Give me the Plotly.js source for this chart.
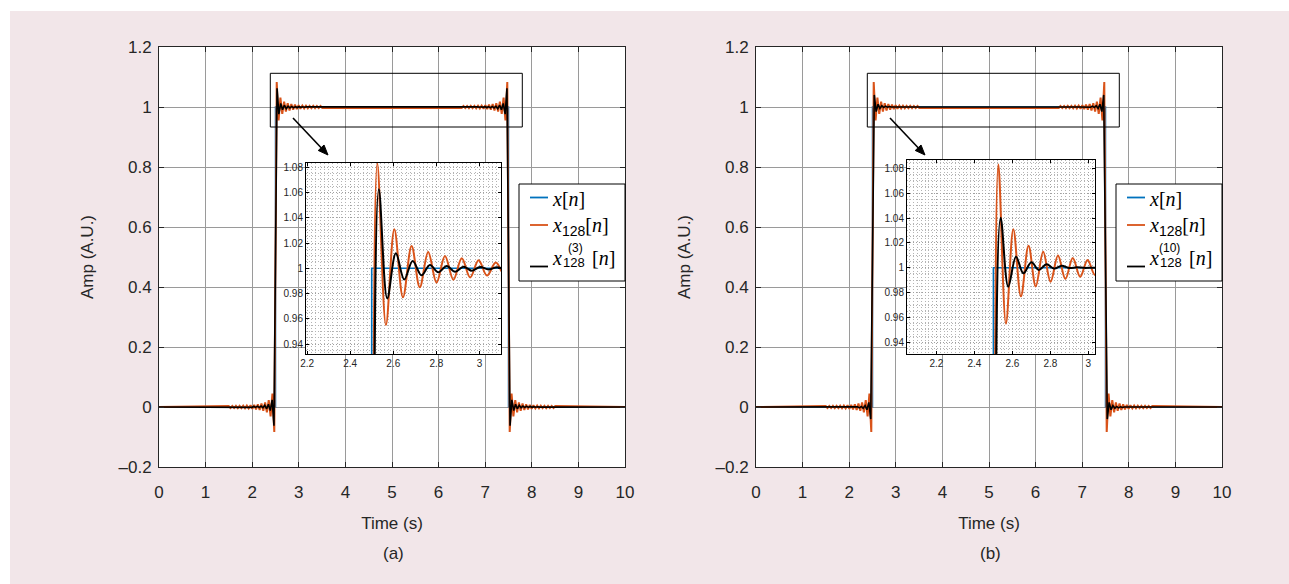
<!DOCTYPE html>
<html><head><meta charset="utf-8">
<script src="https://cdn.plot.ly/plotly-3.0.1.min.js"></script>
<style>
body{margin:0;background:#fff;width:1289px;height:584px;overflow:hidden;position:relative}
#main{position:absolute;left:10px;top:11px;width:1279px;height:573px}
#insetA{position:absolute;left:256px;top:148px;width:265px;height:240px}
#insetB{position:absolute;left:857px;top:145px;width:258px;height:243px}
</style></head><body>
<div id="main"></div><div id="insetA"></div><div id="insetB"></div>
<script>
// ---------------- data ----------------
const stepT = [0, 2.5, 2.5, 7.5, 7.5, 10];
const stepV = [0, 0, 1, 1, 0, 0];

// x128[n] around the rising edge (extrema)
const x128RiseT = [1.495,1.534,1.573,1.612,1.651,1.690,1.729,1.768,1.807,1.846,1.885,1.924,1.965,2.004,2.043,2.082,2.121,2.160,2.199,2.238,2.277,2.315,2.355,2.395,2.434,2.474,2.500,2.526,2.566,2.605,2.645,2.685,2.723,2.762,2.801,2.840,2.879,2.918,2.957,2.996,3.035,3.076,3.115,3.154,3.193,3.232,3.271,3.310,3.349,3.388,3.427,3.466,3.505];
const x128RiseV = [0.0034,-0.0032,0.0036,-0.0034,0.0038,-0.0036,0.0041,-0.0039,0.0044,-0.0042,0.0047,-0.0045,0.0058,-0.0063,0.0073,-0.0079,0.0090,-0.0098,0.0113,-0.0128,0.0150,-0.0177,0.0230,-0.0310,0.0450,-0.0830,0.5000,1.0830,0.9550,1.0310,0.9770,1.0177,0.9850,1.0128,0.9887,1.0098,0.9910,1.0079,0.9927,1.0063,0.9942,1.0045,0.9953,1.0042,0.9956,1.0039,0.9959,1.0036,0.9962,1.0034,0.9964,1.0032,0.9966];

// x128^(3)[n] around the rising edge
const x3RiseT = [1.840,1.880,1.919,1.958,1.997,2.036,2.074,2.113,2.152,2.191,2.230,2.269,2.310,2.349,2.388,2.428,2.467,2.500,2.533,2.572,2.612,2.651,2.690,2.731,2.770,2.809,2.848,2.887,2.926,2.964,3.003,3.042,3.081,3.120,3.160];
const x3RiseV = [-0.0005,0.0007,-0.0008,0.0010,-0.0011,0.0019,-0.0013,0.0028,-0.0018,0.0032,-0.0026,0.0056,-0.0058,0.0089,-0.0119,0.0238,-0.0626,0.5000,1.0626,0.9762,1.0119,0.9911,1.0058,0.9944,1.0026,0.9968,1.0018,0.9972,1.0013,0.9981,1.0011,0.9990,1.0008,0.9993,1.0005];

// x128^(10)[n] around the rising edge
const x10RiseT = [1.940,1.980,2.020,2.060,2.100,2.140,2.180,2.220,2.261,2.300,2.342,2.381,2.422,2.462,2.500,2.538,2.578,2.619,2.658,2.700,2.739,2.780,2.820,2.860,2.900,2.940,2.980,3.020,3.060];
const x10RiseV = [0.0000,0.0002,-0.0001,-0.0004,0.0002,-0.0017,0.0007,-0.0028,0.0018,-0.0044,0.0045,-0.0089,0.0152,-0.0403,0.5000,1.0403,0.9848,1.0089,0.9955,1.0044,0.9982,1.0028,0.9993,1.0017,0.9998,1.0004,0.9999,1.0001,1.0000];

const mainXTicks = [0,1,2,3,4,5,6,7,8,9,10];
const mainYTicks = [-0.2,0,0.2,0.4,0.6,0.8,1,1.2];
const mainYText = ['\u20130.2','0','0.2','0.4','0.6','0.8','1','1.2'];
const insetXTicks = [2.2,2.4,2.6,2.8,3.0];
const insetXText = ['2.2','2.4','2.6','2.8','3'];
const insetYTicks = [0.94,0.96,0.98,1.00,1.02,1.04,1.06,1.08];
const insetYText = ['0.94','0.96','0.98','1','1.02','1.04','1.06','1.08'];

// pulse is symmetric about t = 5: the falling edge is the mirror of the rising edge
function pulse(rt, rv) {
  const ft = rt.slice().reverse().map(t => 10 - t);
  const fv = rv.slice().reverse();
  return {t: [0, ...rt, ...ft, 10], v: [0, ...rv, ...fv, 0]};
}
const x128 = pulse(x128RiseT, x128RiseV);
const x3 = pulse(x3RiseT, x3RiseV);
const x10 = pulse(x10RiseT, x10RiseV);

// ---------------- styles ----------------
const BLUE = '#0072BD', ORANGE = '#D95319', BLACK = '#000000';
const SANS = 'Liberation Sans, Arial, Helvetica, sans-serif';
const SERIF = 'Liberation Serif, Times New Roman, serif';
const TXT = '#262626';

function traces(xa, ya, orange, blk, w, shape) {
  return [
    {x: stepT, y: stepV, xaxis: xa, yaxis: ya, type: 'scatter', mode: 'lines', line: {color: BLUE, width: w[0]}, hoverinfo: 'skip'},
    {x: orange.t, y: orange.v, xaxis: xa, yaxis: ya, type: 'scatter', mode: 'lines', line: {color: ORANGE, width: w[1], shape: shape, smoothing: 1}, hoverinfo: 'skip'},
    {x: blk.t, y: blk.v, xaxis: xa, yaxis: ya, type: 'scatter', mode: 'lines', line: {color: BLACK, width: w[2], shape: shape, smoothing: 1}, hoverinfo: 'skip'}
  ];
}

// main figure geometry (page pixels)
const PL = 159, PR = 1222, PT = 47, PB = 467, OFF = 597;
const px = x => (x - PL) / (PR - PL);
const py = y => (PB - y) / (PB - PT);

const axBase = {
  showline: true, linecolor: TXT, linewidth: 1, mirror: 'ticks',
  ticks: 'inside', ticklen: 5, tickcolor: TXT, tickwidth: 1,
  showgrid: true, gridcolor: '#9a9a9a', gridwidth: 1, zeroline: false,
  tickfont: {family: SANS, size: 17, color: TXT}, fixedrange: true
};
function xAx(dom, anchor) {
  return Object.assign({}, axBase, {domain: dom, anchor: anchor, range: [0, 10], tickmode: 'array', tickvals: mainXTicks,
    ticklabelstandoff: 10, title: {text: 'Time (s)', font: {family: SANS, size: 17, color: TXT}, standoff: 15}});
}
function yAx(anchor) {
  return Object.assign({}, axBase, {domain: [0, 1], anchor: anchor, range: [-0.2, 1.2], tickmode: 'array', tickvals: mainYTicks, ticktext: mainYText,
    ticklabelstandoff: 3, title: {text: 'Amp (A.U.)', font: {family: SANS, size: 17, color: TXT}, standoff: 20}});
}

const shapes = [];
const ann = [];
function arrow(x1, y1, x2, y2) {
  const dx = x2 - x1, dy = y2 - y1, L = Math.hypot(dx, dy);
  const ux = dx / L, uy = dy / L, hl = 10, hw = 4;
  const bx = x2 - hl * ux, by = y2 - hl * uy;
  shapes.push({type: 'line', xref: 'paper', yref: 'paper', x0: px(x1), y0: py(y1), x1: px(bx), y1: py(by), line: {color: '#000', width: 1.6}, layer: 'above'});
  const p = [[x2, y2], [bx - hw * uy, by + hw * ux], [bx + hw * uy, by - hw * ux]];
  shapes.push({type: 'path', xref: 'paper', yref: 'paper', layer: 'above', fillcolor: '#000', line: {color: '#000', width: 1},
    path: 'M ' + p.map(q => px(q[0]) + ' ' + py(q[1])).join(' L ') + ' Z'});
}
function panelDecor(o, sup) {
  // zoom rectangle
  shapes.push({type: 'rect', xref: 'paper', yref: 'paper', x0: px(270.3 + o), x1: px(522.3 + o), y0: py(127), y1: py(73.3), line: {color: '#000', width: 1}, layer: 'above'});
  // legend box
  shapes.push({type: 'rect', xref: 'paper', yref: 'paper', x0: px(519 + o), x1: px(625 + o), y0: py(281), y1: py(184), line: {color: '#000', width: 1}, fillcolor: '#fff', layer: 'above'});
  const ly = [197.5, 225, 266.5], cols = [BLUE, ORANGE, BLACK];
  for (let i = 0; i < 3; i++) {
    shapes.push({type: 'line', xref: 'paper', yref: 'paper', x0: px(530 + o), x1: px(548 + o), y0: py(ly[i]), y1: py(ly[i]), line: {color: cols[i], width: 1.8}, layer: 'above'});
  }
  const sub = '<sub><span style="font-family:Liberation Sans">128</span></sub>';
  const texts = ['<i>x</i>[<i>n</i>]', '<i>x</i>' + sub + '[<i>n</i>]'];
  const ty = [199, 226];
  for (let i = 0; i < 2; i++) {
    ann.push({xref: 'paper', yref: 'paper', x: px(551 + o), y: py(ty[i]), xanchor: 'left', yanchor: 'middle', showarrow: false, borderpad: 0,
      text: texts[i], font: {family: SERIF, size: 20, color: '#000'}});
  }
  // third entry: x with stacked superscript / subscript
  ann.push({xref: 'paper', yref: 'paper', x: px(551 + o), y: py(258), xanchor: 'left', yanchor: 'middle', showarrow: false, borderpad: 0,
    text: '<i>x</i>', font: {family: SERIF, size: 20, color: '#000'}});
  ann.push({xref: 'paper', yref: 'paper', x: px(562 + o), y: py(263), xanchor: 'left', yanchor: 'middle', showarrow: false, borderpad: 0,
    text: '128', font: {family: SANS, size: 13, color: '#000'}});
  ann.push({xref: 'paper', yref: 'paper', x: px((sup.length > 3 ? 561 : 567) + o), y: py(248.5), xanchor: 'left', yanchor: 'middle', showarrow: false, borderpad: 0,
    text: sup, font: {family: SANS, size: 12, color: '#000'}});
  ann.push({xref: 'paper', yref: 'paper', x: px(591 + o), y: py(258), xanchor: 'left', yanchor: 'middle', showarrow: false, borderpad: 0,
    text: '[<i>n</i>]', font: {family: SERIF, size: 20, color: '#000'}});
  // arrow
  arrow(293 + o, 118, 328 + o, 155);
  // panel label
  ann.push({xref: 'paper', yref: 'paper', x: px(393 + o), y: py(553), xanchor: 'center', yanchor: 'middle', showarrow: false,
    text: o ? '(b)' : '(a)', font: {family: SANS, size: 17, color: TXT}});
}
panelDecor(0, '(3)');
panelDecor(OFF, '(10)');

const mainLayout = {
  width: 1279, height: 573, margin: {l: 149, r: 67, t: 36, b: 117},
  paper_bgcolor: '#f2e6e9', plot_bgcolor: '#ffffff', showlegend: false,
  xaxis: xAx([0, px(625)], 'y'), yaxis: yAx('x'),
  xaxis2: xAx([px(756), 1], 'y2'), yaxis2: yAx('x2'),
  shapes: shapes, annotations: ann
};
const mainData = [...traces('x', 'y', x128, x3, [1.5, 2, 1.6], 'linear'), ...traces('x2', 'y2', x128, x10, [1.5, 2, 1.6], 'linear')];

// ---------------- insets ----------------
function insetLayout(w, h, m, xr, yr) {
  const common = {showline: true, linecolor: '#000', linewidth: 1, mirror: 'ticks', ticks: 'inside', ticklen: 3,
    tickcolor: '#000', tickwidth: 1, zeroline: false, showgrid: true, gridcolor: '#a0a0a0', gridwidth: 1, griddash: '1px,2px',
    tickfont: {family: SANS, size: 10, color: TXT}, fixedrange: true};
  return {
    width: w, height: h, margin: m, paper_bgcolor: 'rgba(0,0,0,0)', plot_bgcolor: '#ffffff', showlegend: false,
    xaxis: Object.assign({}, common, {range: xr, tickmode: 'array', tickvals: insetXTicks, ticktext: insetXText,
      minor: {dtick: 0.02, tick0: 2.0, showgrid: true, gridcolor: '#b4b4b4', griddash: '1px,2px', gridwidth: 1}}),
    yaxis: Object.assign({}, common, {range: yr, tickmode: 'array', tickvals: insetYTicks, ticktext: insetYText,
      minor: {dtick: 0.005, tick0: 0.93, showgrid: true, gridcolor: '#b4b4b4', griddash: '1px,2px', gridwidth: 1}})
  };
}
const o128 = {t: x128RiseT, v: x128RiseV};
const cfg = {staticPlot: true, displayModeBar: false};
Promise.all([
  Plotly.newPlot('main', mainData, mainLayout, cfg),
  Plotly.newPlot('insetA', traces('x', 'y', o128, {t: x3RiseT, v: x3RiseV}, [1.6, 2, 2], 'spline'),
    insetLayout(265, 240, {l: 50, r: 20, t: 15, b: 34}, [2.195, 3.1], [0.9321, 1.0834]), cfg),
  Plotly.newPlot('insetB', traces('x', 'y', o128, {t: x10RiseT, v: x10RiseV}, [1.6, 2, 2], 'spline'),
    insetLayout(258, 243, {l: 50, r: 20, t: 15, b: 34}, [2.045, 3.035], [0.9306, 1.0867]), cfg)
]).then(() => {
  // drop empty placeholder text nodes left by the library
  document.querySelectorAll('svg text').forEach(t => { if (!t.textContent.trim()) t.remove(); });
});
</script>
</body></html>
